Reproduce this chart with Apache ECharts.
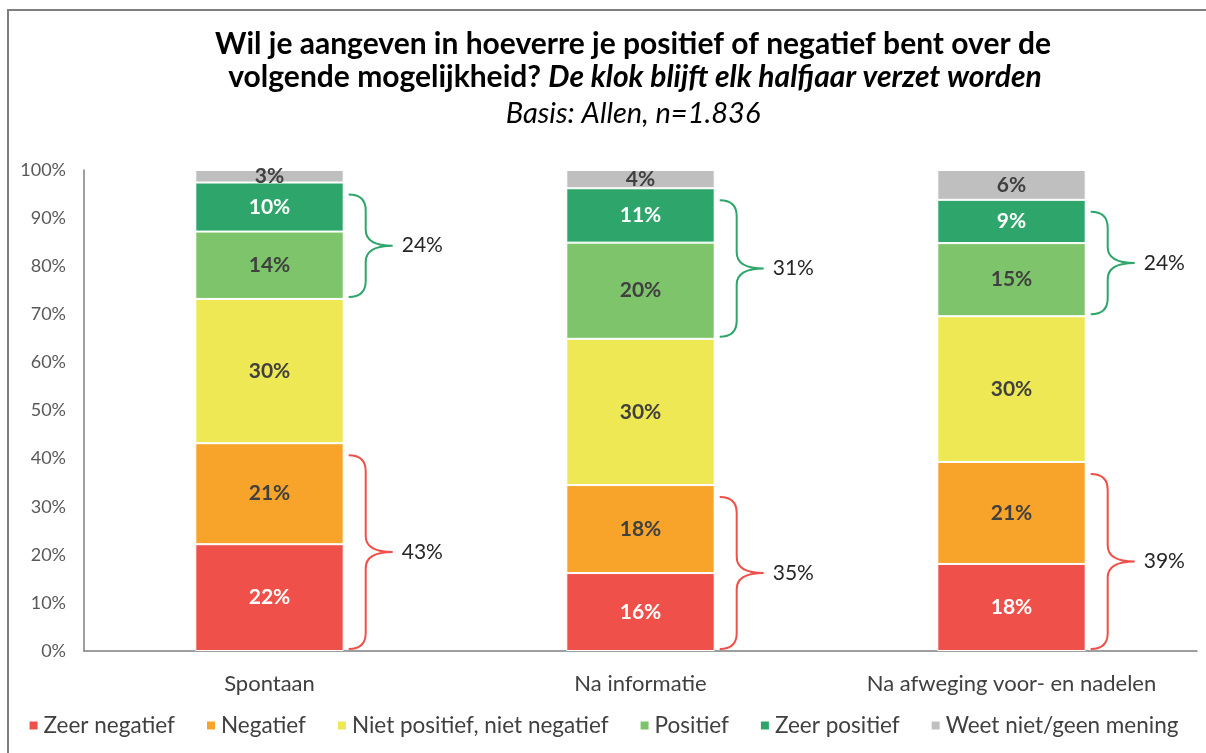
<!DOCTYPE html>
<html>
<head>
<meta charset="utf-8">
<script src="https://cdn.jsdelivr.net/npm/echarts@6/dist/echarts.min.js"></script>
<style>
  html, body { margin: 0; padding: 0; background: #fff; }
  #main { width: 1206px; height: 753px; }
</style>
</head>
<body>
<div id="main"></div>
<script>
// categories and values (percent)
var categories = ['Spontaan', 'Na informatie', 'Na afweging voor- en nadelen'];
var zeerNegatief = [22.2, 16.2, 18.1];
var negatief     = [21.0, 18.3, 21.2];
var neutraal     = [30.0, 30.4, 30.3];
var positief     = [14.0, 20.0, 15.2];
var zeerPositief = [10.2, 11.3, 9.0];
var weetNiet     = [2.6, 3.8, 6.2];
var yTicks = [0, 10, 20, 30, 40, 50, 60, 70, 80, 90, 100];

var font = 'Lato, "Noto Sans", sans-serif';
var colors = ['#f0504a', '#f8a42b', '#ede853', '#7dc46a', '#2ea66b', '#bfbfbf']; // rood oranje geel lichtgroen donkergroen grijs
var labelDark = '#404040';

function makeBar(name, data, color, labelColor) {
    return {
        name: name,
        type: 'bar',
        stack: 'totaal',
        data: data,
        barCategoryGap: '60%',
        itemStyle: { color: color, borderColor: '#fff', borderWidth: 1 },
        label: {
            show: true,
            position: 'inside',
            fontFamily: font,
            fontWeight: 'bold',
            fontSize: 21,
            color: labelColor,
            formatter: function (p) { return Math.round(p.value) + '%'; }
        }
    };
}

// accolades: [categorie, onderkant, bovenkant]
var negBraces = categories.map(function (c, i) {
    return [i, 0, zeerNegatief[i] + negatief[i]];
});
var posBraces = categories.map(function (c, i) {
    var low = zeerNegatief[i] + negatief[i] + neutraal[i];
    return [i, low, low + positief[i] + zeerPositief[i]];
});

function braceSeries(data, color) {
    return {
        type: 'custom',
        data: data,
        encode: { x: 0, y: [1, 2] },
        z: 5,
        renderItem: function (params, api) {
            var i = api.value(0);
            var bottom = api.coord([i, api.value(1)]);
            var top = api.coord([i, api.value(2)]);
            var halfBar = api.size([1, 0])[0] * 0.2;
            var x0 = bottom[0] + halfBar + 5;
            var y1 = top[1] + 12;
            var y2 = bottom[1] - 2;
            var ym = (y1 + y2) / 2;
            var xv = x0 + 17, xt = x0 + 44, r = 16;
            var d = 'M' + x0 + ' ' + y1 +
                ' Q' + xv + ' ' + y1 + ' ' + xv + ' ' + (y1 + r) +
                ' L' + xv + ' ' + (ym - r) +
                ' Q' + xv + ' ' + ym + ' ' + xt + ' ' + ym +
                ' Q' + xv + ' ' + ym + ' ' + xv + ' ' + (ym + r) +
                ' L' + xv + ' ' + (y2 - r) +
                ' Q' + xv + ' ' + y2 + ' ' + x0 + ' ' + y2;
            return {
                type: 'group',
                children: [{
                    type: 'path',
                    shape: { pathData: d },
                    style: { fill: null, stroke: color, lineWidth: 2 }
                }, {
                    type: 'text',
                    x: xt + 9,
                    y: ym,
                    style: {
                        text: Math.round(api.value(2) - api.value(1)) + '%',
                        font: '21px ' + font,
                        fill: '#262626',
                        verticalAlign: 'middle'
                    }
                }]
            };
        }
    };
}

var myChart = echarts.init(document.getElementById('main'));
var option = {
    backgroundColor: '#fff',
    animation: false,
    graphic: [
        { type: 'rect', shape: { x: 8, y: 10, width: 1300, height: 800 },
          style: { fill: null, stroke: '#7f7f7f', lineWidth: 2 } },
        { type: 'text', x: 633, y: 44,
          style: { text: 'Wil je aangeven in hoeverre je positief of negatief bent over de',
                   font: 'bold 30px ' + font, fill: '#000', textAlign: 'center', textVerticalAlign: 'middle' } },
        { type: 'text', x: 635, y: 77,
          style: { text: '{b|volgende mogelijkheid? }{bi|De klok blijft elk halfjaar verzet worden}',
                   textAlign: 'center', textVerticalAlign: 'middle',
                   rich: {
                       b: { font: 'bold 30px ' + font, fill: '#000' },
                       bi: { font: 'italic bold 30px ' + font, fill: '#000' }
                   } } },
        { type: 'text', x: 633, y: 114,
          style: { text: 'Basis: Allen, n=1.836',
                   font: 'italic 29px ' + font, fill: '#000', textAlign: 'center', textVerticalAlign: 'middle' } }
    ],
    legend: {
        bottom: 11,
        left: 'center',
        icon: 'rect',
        itemWidth: 10,
        itemHeight: 10,
        itemGap: 30,
        textStyle: { fontFamily: font, fontSize: 22.5, color: '#404040' },
        data: ['Zeer negatief', 'Negatief', 'Niet positief, niet negatief', 'Positief', 'Zeer positief', 'Weet niet/geen mening']
    },
    grid: { left: 84, right: 9, top: 170, bottom: 102 },
    xAxis: {
        type: 'category',
        data: categories,
        axisTick: { show: false },
        axisLine: { lineStyle: { color: '#7f7f7f', width: 1.5 } },
        axisLabel: { interval: 0, fontFamily: font, fontSize: 22, color: '#404040', margin: 22 }
    },
    yAxis: {
        type: 'value',
        min: yTicks[0],
        max: yTicks[yTicks.length - 1],
        interval: yTicks[1] - yTicks[0],
        splitLine: { show: false },
        axisTick: { show: false },
        axisLine: { show: true, lineStyle: { color: '#7f7f7f', width: 1.5 } },
        axisLabel: { fontFamily: font, fontSize: 18, color: '#595959', margin: 18, formatter: '{value}%' }
    },
    series: [
        makeBar('Zeer negatief', zeerNegatief, colors[0], '#fff'),
        makeBar('Negatief', negatief, colors[1], labelDark),
        makeBar('Niet positief, niet negatief', neutraal, colors[2], labelDark),
        makeBar('Positief', positief, colors[3], labelDark),
        makeBar('Zeer positief', zeerPositief, colors[4], '#fff'),
        makeBar('Weet niet/geen mening', weetNiet, colors[5], labelDark),
        braceSeries(negBraces, '#f0504a'),
        braceSeries(posBraces, '#2ea66b')
    ]
};
myChart.setOption(option);
</script>
</body>
</html>
